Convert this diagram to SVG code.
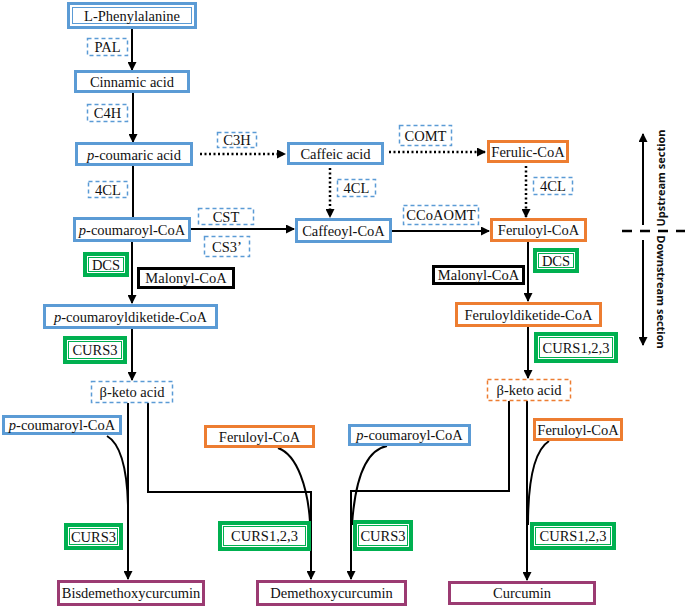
<svg xmlns="http://www.w3.org/2000/svg" width="685" height="610" viewBox="0 0 685 610">
<defs>
<marker id="ah" markerUnits="userSpaceOnUse" markerWidth="9" markerHeight="9" refX="8" refY="4.5" orient="auto">
<path d="M0,0 L9,4.5 L0,9 Z" fill="#000"/>
</marker>
<style>
.t{font-family:'Liberation Serif',serif;font-size:14.5px;fill:#111;text-anchor:middle}
.sec{font-family:'Open Sans','Liberation Sans',sans-serif;font-size:11px;font-weight:bold;fill:#111;text-anchor:middle}
.b{fill:#fff;stroke:#5b9bd5;stroke-width:3}
.o{fill:#fff;stroke:#ed7d31;stroke-width:3}
.k{fill:#fff;stroke:#000;stroke-width:3}
.p{fill:#fff;stroke:#9b3b72;stroke-width:3}
.bi{fill:none;stroke:#5b9bd5;stroke-width:1}
.g{fill:#fff;stroke:#00b050;stroke-width:4}
.gi{fill:none;stroke:#00b050;stroke-width:1}
.db{fill:#fff;stroke:#5b9bd5;stroke-width:1.5;stroke-dasharray:4,3}
.do{fill:#fff;stroke:#ed7d31;stroke-width:1.5;stroke-dasharray:4,3}
.ln{fill:none;stroke:#000;stroke-width:2}
.dt{fill:none;stroke:#000;stroke-width:2.5;stroke-dasharray:2,2.5}
</style>
</defs>

<g id="connectors">
<line class="ln" x1="132" y1="29" x2="132" y2="70" marker-end="url(#ah)"/>
<line class="ln" x1="133" y1="93" x2="133" y2="142" marker-end="url(#ah)"/>
<line class="ln" x1="133" y1="166" x2="133" y2="217"/>
<line class="dt" x1="200" y1="154" x2="285" y2="154" marker-end="url(#ah)"/>
<line class="dt" x1="389" y1="152" x2="485" y2="152" marker-end="url(#ah)"/>
<line class="dt" x1="330" y1="168" x2="330" y2="217" marker-end="url(#ah)"/>
<line class="dt" x1="526" y1="166" x2="526" y2="217" marker-end="url(#ah)"/>
<line class="ln" x1="191" y1="229" x2="294" y2="229" marker-end="url(#ah)"/>
<line class="ln" x1="392" y1="231" x2="489" y2="231" marker-end="url(#ah)"/>
<line class="ln" x1="132" y1="242" x2="132" y2="303" marker-end="url(#ah)"/>
<line class="ln" x1="528" y1="242" x2="528" y2="301" marker-end="url(#ah)"/>
<line class="ln" x1="132" y1="329" x2="132" y2="380" marker-end="url(#ah)"/>
<line class="ln" x1="528" y1="327" x2="528" y2="378" marker-end="url(#ah)"/>
<path class="ln" d="M128,403 V579" marker-end="url(#ah)"/>
<path class="ln" d="M107,436 C121,444 127,470 128,505"/>
<path class="ln" d="M148,403 V492 H311 V579" marker-end="url(#ah)"/>
<path class="ln" d="M278,448 C298,455 308,490 310,522"/>
<path class="ln" d="M509,401 V491 H351 V579" marker-end="url(#ah)"/>
<path class="ln" d="M387,446 C366,450 355,480 352,525"/>
<path class="ln" d="M527,401 V580" marker-end="url(#ah)"/>
<path class="ln" d="M549,441 C535,450 528,480 528,525"/>
</g>

<g id="sections">
<line class="ln" x1="643" y1="225" x2="643" y2="134" marker-end="url(#ah)"/>
<line class="ln" x1="643" y1="240" x2="643" y2="345" marker-end="url(#ah)"/>
<line x1="622" y1="231" x2="685" y2="231" stroke="#000" stroke-width="2.5" stroke-dasharray="10,8"/>
<text class="sec" transform="translate(665,178) rotate(-90)">Upstream section</text>
<text class="sec" transform="translate(657,292) rotate(90)">Downstream section</text>
</g>

<g id="n-phe"><rect class="b" x="68.5" y="3.5" width="127" height="24"/><rect class="bi" x="72.5" y="7.5" width="119" height="16"/><text class="t" x="132" y="20.5">L-Phenylalanine</text></g>
<g id="n-cinn"><rect class="b" x="75.5" y="71.5" width="113" height="20"/><text class="t" x="132" y="86.5">Cinnamic acid</text></g>
<g id="n-pcoum"><rect class="b" x="76.5" y="143.5" width="115" height="21"/><text class="t" x="134" y="159.5"><tspan font-style="italic">p</tspan>-coumaric acid</text></g>
<g id="n-caff"><rect class="b" x="288.5" y="143.5" width="94" height="20"/><text class="t" x="335.5" y="158.5">Caffeic acid</text></g>
<g id="n-ferulic"><rect class="o" x="488.5" y="141.5" width="79" height="20"/><text class="t" x="528" y="156.5">Ferulic-CoA</text></g>
<g id="n-pcoa"><rect class="b" x="74.5" y="218.5" width="115" height="22"/><text class="t" x="132" y="234.5"><tspan font-style="italic">p</tspan>-coumaroyl-CoA</text></g>
<g id="n-caffcoa"><rect class="b" x="296.5" y="219.5" width="94" height="22"/><text class="t" x="343.5" y="235.5">Caffeoyl-CoA</text></g>
<g id="n-ferucoa"><rect class="o" x="491.5" y="219.5" width="94" height="21"/><text class="t" x="538.5" y="235">Feruloyl-CoA</text></g>
<g id="n-mal1"><rect class="k" x="138.5" y="268.5" width="95" height="19"/><text class="t" x="186" y="283">Malonyl-CoA</text></g>
<g id="n-mal2"><rect class="k" x="433.5" y="266.5" width="90" height="17"/><text class="t" x="478.5" y="280">Malonyl-CoA</text></g>
<g id="n-pdik"><rect class="b" x="44.5" y="305.5" width="172" height="22"/><text class="t" x="130.5" y="321.5"><tspan font-style="italic">p</tspan>-coumaroyldiketide-CoA</text></g>
<g id="n-fdik"><rect class="o" x="456.5" y="303.5" width="144" height="22"/><text class="t" x="528.5" y="319.5">Feruloyldiketide-CoA</text></g>
<g id="n-bk1"><rect class="db" x="91.5" y="381.5" width="81" height="21"/><text class="t" x="132" y="397">β-keto acid</text></g>
<g id="n-bk2"><rect class="do" x="487.5" y="379.5" width="83" height="21"/><text class="t" x="529" y="395">β-keto acid</text></g>
<g id="n-pcoa2"><rect class="b" x="3.5" y="416.5" width="117" height="17"/><text class="t" x="62" y="430"><tspan font-style="italic">p</tspan>-coumaroyl-CoA</text></g>
<g id="n-fcoa2"><rect class="o" x="205.5" y="426.5" width="108" height="20"/><text class="t" x="259.5" y="441.5">Feruloyl-CoA</text></g>
<g id="n-pcoa3"><rect class="b" x="349.5" y="425.5" width="120" height="19"/><text class="t" x="409.5" y="440"><tspan font-style="italic">p</tspan>-coumaroyl-CoA</text></g>
<g id="n-fcoa3"><rect class="o" x="534.5" y="419.5" width="87" height="20"/><text class="t" x="578" y="434.5">Feruloyl-CoA</text></g>
<g id="n-bdmc"><rect class="p" x="58.5" y="581.5" width="145" height="23"/><text class="t" x="131" y="598">Bisdemethoxycurcumin</text></g>
<g id="n-dmc"><rect class="p" x="257.5" y="581.5" width="148" height="23"/><text class="t" x="331.5" y="598">Demethoxycurcumin</text></g>
<g id="n-cur"><rect class="p" x="449.5" y="582.5" width="145" height="21"/><text class="t" x="522" y="598">Curcumin</text></g>

<g id="e-pal"><rect class="db" x="87.5" y="38.5" width="40" height="17"/><text class="t" x="107.5" y="52">PAL</text></g>
<g id="e-c4h"><rect class="db" x="87.5" y="104.5" width="40" height="17"/><text class="t" x="107.5" y="118">C4H</text></g>
<g id="e-4cl1"><rect class="db" x="88.5" y="181.5" width="39" height="16"/><text class="t" x="108" y="194.5">4CL</text></g>
<g id="e-c3h"><rect class="db" x="217.5" y="132.5" width="39" height="15"/><text class="t" x="237" y="145">C3H</text></g>
<g id="e-comt"><rect class="db" x="399.5" y="125.5" width="52" height="20"/><text class="t" x="425.5" y="140.5">COMT</text></g>
<g id="e-4cl2"><rect class="db" x="337.5" y="179.5" width="38" height="17"/><text class="t" x="356.5" y="193">4CL</text></g>
<g id="e-4cl3"><rect class="db" x="533.5" y="177.5" width="39" height="17"/><text class="t" x="553" y="191">4CL</text></g>
<g id="e-cst"><rect class="db" x="198.5" y="208.5" width="55" height="16"/><text class="t" x="226" y="221.5">CST</text></g>
<g id="e-cs3"><rect class="db" x="204.5" y="236.5" width="45" height="20"/><text class="t" x="227" y="251.5">CS3’</text></g>
<g id="e-ccoaomt"><rect class="db" x="403.5" y="205.5" width="75" height="19"/><text class="t" x="441" y="220">CCoAOMT</text></g>

<g id="e-dcs1"><rect class="g" x="85" y="254" width="42" height="21"/><rect class="gi" x="88.5" y="257.5" width="35" height="14"/><text class="t" x="106" y="269.5">DCS</text></g>
<g id="e-dcs2"><rect class="g" x="535" y="250" width="42" height="21"/><rect class="gi" x="538.5" y="253.5" width="35" height="14"/><text class="t" x="556" y="265.5">DCS</text></g>
<g id="e-curs3a"><rect class="g" x="65" y="338" width="60" height="24"/><rect class="gi" x="68.5" y="341.5" width="53" height="17"/><text class="t" x="95" y="355">CURS3</text></g>
<g id="e-curs123a"><rect class="g" x="536" y="334" width="80" height="27"/><rect class="gi" x="539.5" y="337.5" width="73" height="20"/><text class="t" x="576" y="352.5">CURS1,2,3</text></g>
<g id="e-curs3b"><rect class="g" x="66" y="525" width="55" height="23"/><rect class="gi" x="69.5" y="528.5" width="48" height="16"/><text class="t" x="93.5" y="541.5">CURS3</text></g>
<g id="e-curs123b"><rect class="g" x="220" y="523" width="89" height="26"/><rect class="gi" x="223.5" y="526.5" width="82" height="19"/><text class="t" x="264.5" y="541">CURS1,2,3</text></g>
<g id="e-curs3c"><rect class="g" x="355" y="522" width="56" height="27"/><rect class="gi" x="358.5" y="525.5" width="49" height="20"/><text class="t" x="383" y="540.5">CURS3</text></g>
<g id="e-curs123c"><rect class="g" x="532" y="524" width="82" height="24"/><rect class="gi" x="535.5" y="527.5" width="75" height="17"/><text class="t" x="573" y="541">CURS1,2,3</text></g>
</svg>
